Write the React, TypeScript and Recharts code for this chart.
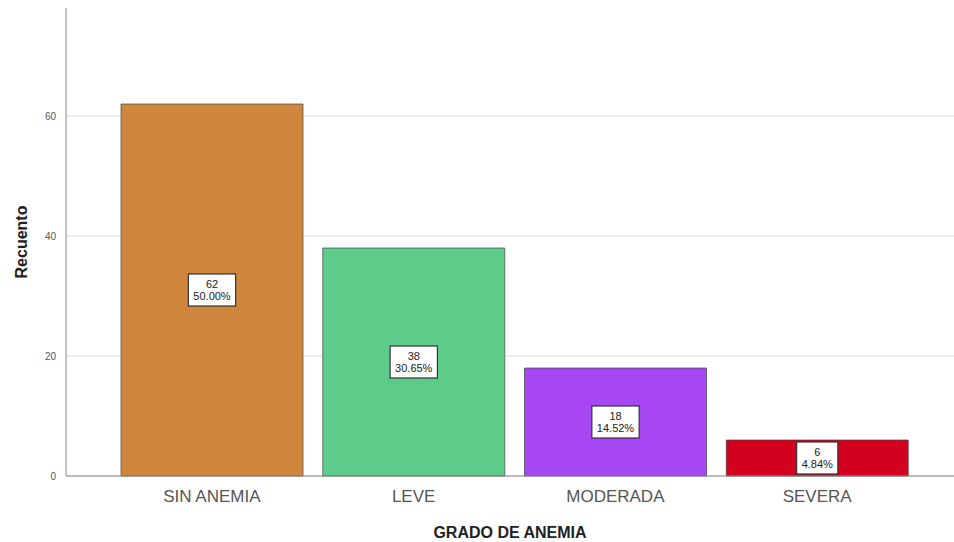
import React from 'react';
import { BarChart, Bar, XAxis, YAxis, CartesianGrid, Cell, LabelList, Label } from 'recharts';

const categories = ['SIN ANEMIA', 'LEVE', 'MODERADA', 'SEVERA'];
const counts = [62, 38, 18, 6];
const percents = ['50.00%', '30.65%', '14.52%', '4.84%'];
const colors = ['#CF873D', '#5DCB8A', '#A746F3', '#D3001E'];
const yTicks = [0, 20, 40, 60];

const data = categories.map((name, i) => ({
  name,
  value: counts[i],
  pct: percents[i],
}));

const FONT = '"Liberation Sans", Arial, sans-serif';

// rough Arial widths so the label box hugs its text
const charW = (c: string) => (c === '.' ? 0.278 : c === '%' ? 0.889 : 0.556);
const textWidth = (s: string, size: number) =>
  s.split('').reduce((w, c) => w + charW(c), 0) * size;

const BoxLabel = (props: any) => {
  const { x, y, width, height, index } = props;
  const cx = x + width / 2;
  const cy = y + height / 2;
  const top = String(counts[index]);
  const bottom = percents[index];
  const w = Math.max(textWidth(top, 11), textWidth(bottom, 11)) + 10;
  const h = 32;
  return (
    <g>
      <rect x={cx - w / 2} y={cy - h / 2} width={w} height={h} fill="#ffffff" stroke="#333333" strokeWidth={1.2} />
      <text x={cx} y={cy - 2} textAnchor="middle" fontSize={11} fontFamily={FONT} fill="#222">
        {top}
      </text>
      <text x={cx} y={cy + 10} textAnchor="middle" fontSize={11} fontFamily={FONT} fill="#222">
        {bottom}
      </text>
    </g>
  );
};

const YTitle = (props: any) => {
  const { viewBox } = props;
  const cx = 21;
  const cy = viewBox.y + viewBox.height / 2;
  return (
    <text
      x={cx}
      y={cy}
      transform={`rotate(-90, ${cx}, ${cy})`}
      textAnchor="middle"
      dominantBaseline="central"
      fontSize={16}
      fontWeight="bold"
      fontFamily={FONT}
      fill="#222"
    >
      Recuento
    </text>
  );
};

const App: React.FC = () => {
  return (
    <div style={{ position: 'absolute', left: 0, top: 0, width: 954, height: 542, background: '#fff' }}>
      <BarChart
        width={954}
        height={542}
        data={data}
        margin={{ top: 8, right: 0, bottom: 0, left: 0 }}
        barCategoryGap={10}
      >
        <CartesianGrid vertical={false} stroke="#d9d9d9" syncWithTicks />
        <XAxis
          dataKey="name"
          height={66}
          padding={{ left: 45, right: 36 }}
          stroke="#8c8c8c"
          tickLine={false}
          tickMargin={8}
          tick={{ fontSize: 17, fill: '#555', fontFamily: FONT }}
        >
          <Label
            value="GRADO DE ANEMIA"
            position="insideBottom"
            offset={4}
            style={{ fontSize: 16, fontWeight: 'bold', fill: '#222', fontFamily: FONT }}
          />
        </XAxis>
        <YAxis
          width={66}
          domain={[0, 78]}
          ticks={yTicks}
          stroke="#8c8c8c"
          tickLine={false}
          tickMargin={4}
          tick={{ fontSize: 10, fill: '#555', fontFamily: FONT }}
        >
          <Label content={YTitle} />
        </YAxis>
        <Bar dataKey="value" isAnimationActive={false} stroke="#444" strokeOpacity={0.7} strokeWidth={1}>
          {data.map((d, i) => (
            <Cell key={d.name} fill={colors[i]} />
          ))}
          <LabelList dataKey="value" content={BoxLabel} />
        </Bar>
      </BarChart>
    </div>
  );
};

export default App;
